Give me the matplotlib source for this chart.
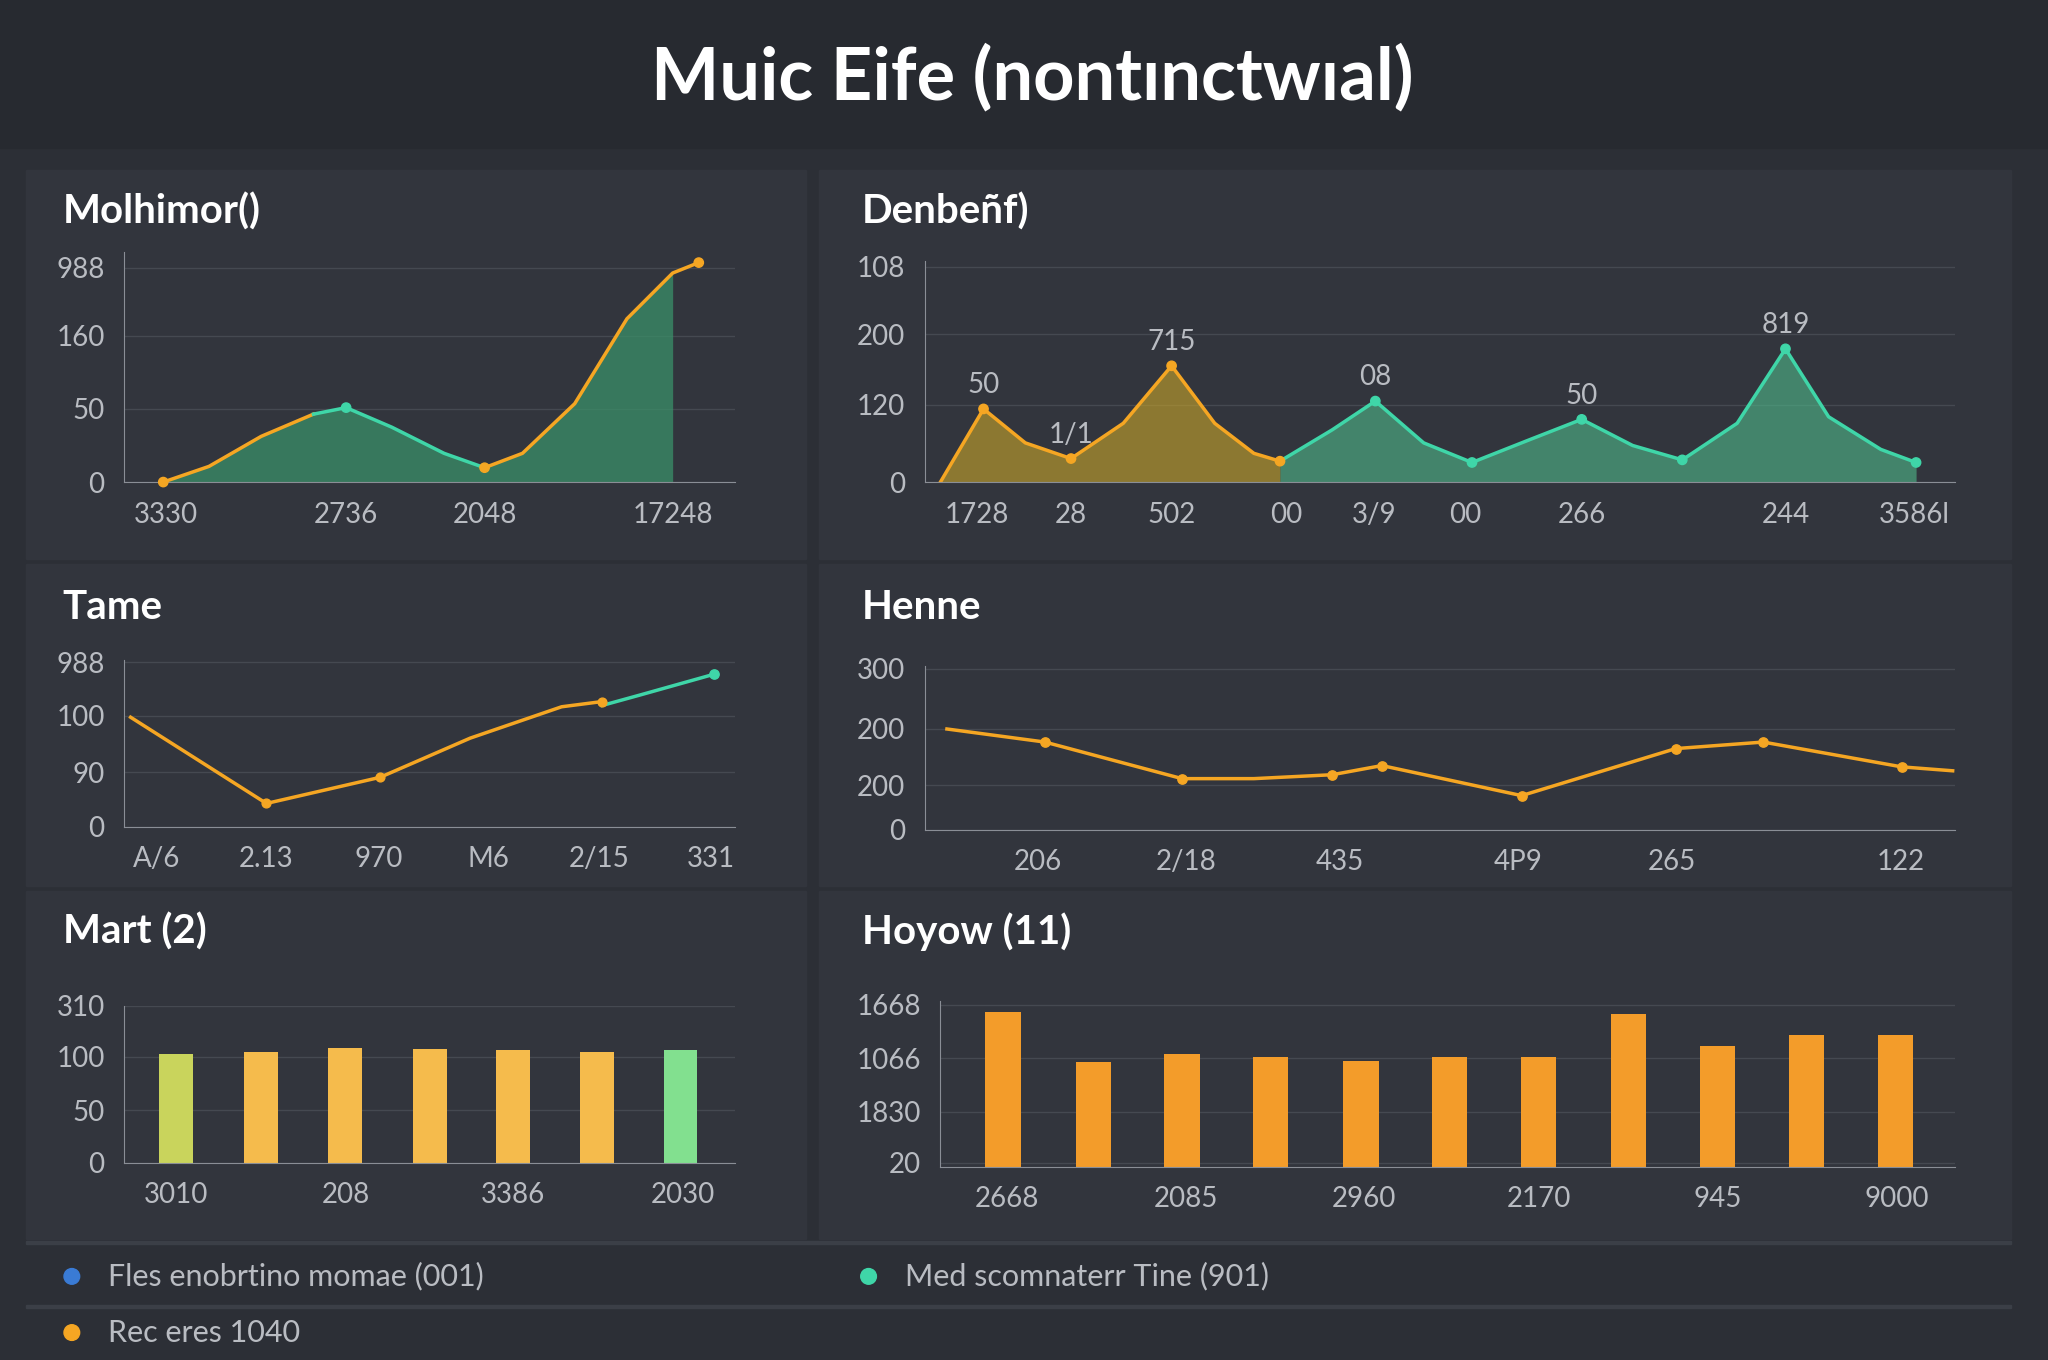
import matplotlib
matplotlib.use('Agg')
import matplotlib.pyplot as plt
import numpy as np

plt.rcParams['font.family'] = ['Lato', 'DejaVu Sans']

W, H = 1568, 1041  # reference layout units
BG = '#2c2f36'
TOP = '#272a30'
PANEL = '#32353d'
GRID = '#454951'
TXT = '#b9bcc2'
ORANGE = '#f5a623'
TEAL = '#3fd6a8'

# ---- data (x in layout units, y as height above the axis floor) ----
p1_x = [125, 160, 200, 240, 265, 300, 340, 371, 400, 440, 480, 515, 535]
p1_y = [0, 12, 35, 52, 57, 42, 22, 11, 22, 60, 125, 160, 168]
p1_marks = [0, 4, 7, 12]
p1_yt, p1_yl = [0, 56, 112, 164], ['0', '50', '160', '988']
p1_xt, p1_xl = [127, 265, 371, 515], ['3330', '2736', '2048', '17248']

p2_x = [720, 753, 785, 820, 860, 897, 930, 960, 980, 1020, 1053, 1090, 1127,
        1170, 1211, 1250, 1288, 1330, 1367, 1400, 1440, 1467]
p2_y = [0, 56, 30, 18, 45, 89, 45, 22, 16, 40, 62, 30, 15, 32, 48, 28, 17,
        45, 102, 50, 25, 15]
p2_marks = [1, 3, 5, 8, 10, 12, 14, 16, 18, 21]
p2_lab = {1: '50', 3: '1/1', 5: '715', 10: '08', 14: '50', 18: '819'}
p2_yt, p2_yl = [0, 59, 113, 165], ['0', '120', '200', '108']
p2_xt = [748, 820, 897, 985, 1052, 1122, 1211, 1367, 1466]
p2_xl = ['1728', '28', '502', '00', '3/9', '00', '266', '244', '3586l']

p3_x = [100, 204, 291, 360, 430, 461]
p3_y = [84, 18, 38, 68, 92, 96]
p3_tx = [461, 490, 547]
p3_ty = [93, 101, 117]
p3_yt, p3_yl = [0, 42, 85, 126], ['0', '90', '100', '988']
p3_xt = [120, 204, 290, 374, 459, 544]
p3_xl = ['A/6', '2.13', '970', 'M6', '2/15', '331']

p4_x = [725, 800, 905, 960, 1020, 1058, 1165, 1283, 1350, 1456, 1495]
p4_y = [77, 67, 39, 39, 42, 49, 26, 62, 67, 48, 45]
p4_marks = [1, 2, 4, 5, 6, 7, 8, 9]
p4_yt, p4_yl = [0, 34, 77, 123], ['0', '200', '200', '300']
p4_xt = [795, 908, 1026, 1162, 1280, 1455]
p4_xl = ['206', '2/18', '435', '4P9', '265', '122']

p5_x = [135, 200, 264, 329, 393, 457, 521]
p5_h = [83, 85, 88, 87, 86, 85, 86]
p5_c = ['#c9d45c', '#f5bb4c', '#f5bb4c', '#f5bb4c', '#f5bb4c', '#f5bb4c', '#82e08f']
p5_yt, p5_yl = [0, 40, 81, 120], ['0', '50', '100', '310']
p5_xt, p5_xl = [135, 265, 393, 523], ['3010', '208', '3386', '2030']

p6_x = [768, 837, 905, 973, 1042, 1110, 1178, 1247, 1315, 1383, 1451]
p6_h = [118, 80, 86, 84, 81, 84, 84, 117, 92, 101, 101]
p6_yt, p6_yl = [3, 42, 83, 124], ['20', '1830', '1066', '1668']
p6_xt = [771, 908, 1044, 1178, 1315, 1452]
p6_xl = ['2668', '2085', '2960', '2170', '945', '9000']

fig = plt.figure(figsize=(20.48, 13.6), dpi=100, facecolor=BG)


def rect(x0, y0, x1, y1, color, z=-10):
    fig.patches.append(plt.Rectangle((x0 / W, 1 - y1 / H), (x1 - x0) / W, (y1 - y0) / H,
                                     transform=fig.transFigure, color=color, zorder=z))


def ax_at(x0, y0, x1, y1, xlim, ylim):
    ax = fig.add_axes([x0 / W, 1 - y1 / H, (x1 - x0) / W, (y1 - y0) / H], zorder=5)
    ax.set_facecolor('none')
    ax.set_xlim(*xlim)
    ax.set_ylim(*ylim)
    for s in ['top', 'right']:
        ax.spines[s].set_visible(False)
    for s in ['left', 'bottom']:
        ax.spines[s].set_color('#8a8e96')
    ax.tick_params(colors=TXT, labelsize=20, length=0, pad=14)
    ax.grid(axis='y', color=GRID, lw=1)
    ax.set_axisbelow(True)
    return ax


def ftext(x, y, s, **kw):
    fig.text(x / W, 1 - y / H, s, **kw)


rect(0, 0, W, 113, TOP)
ftext(790, 60, 'Muic Eife (nontınctwıal)', color='white', fontsize=52,
      fontweight='bold', ha='center', va='center')
for r in [(20, 130, 617, 428), (627, 130, 1540, 428), (20, 432, 617, 678),
          (627, 432, 1540, 678), (20, 682, 617, 948), (627, 682, 1540, 948)]:
    rect(*r, PANEL)
for x, y, t in [(48, 162, 'Molhimor()'), (660, 162, 'Denbeñf)'), (48, 465, 'Tame'),
                (660, 465, 'Henne'), (48, 713, 'Mart (2)'), (660, 713, 'Hoyow (11)')]:
    ftext(x, y, t, color='white', fontsize=29, fontweight='bold', va='center')

# panel 1
ax = ax_at(95, 193, 563, 369, (95, 563), (0, 176))
ax.fill_between(p1_x[:-1], p1_y[:-1], color='#3a8f68', alpha=0.75, lw=0)
ax.plot(p1_x[:4], p1_y[:4], color=ORANGE, lw=2.5)
ax.plot(p1_x[3:8], p1_y[3:8], color=TEAL, lw=2.5)
ax.plot(p1_x[7:], p1_y[7:], color=ORANGE, lw=2.5)
ax.scatter([p1_x[i] for i in p1_marks], [p1_y[i] for i in p1_marks],
           c=[ORANGE, TEAL, ORANGE, ORANGE], s=45, zorder=5, clip_on=False)
ax.set_yticks(p1_yt, p1_yl)
ax.set_xticks(p1_xt, p1_xl)

# panel 2
ax = ax_at(708, 200, 1497, 369, (708, 1497), (0, 169))
k = 8
ax.fill_between(p2_x[:k + 1], p2_y[:k + 1], color='#c9a52a', alpha=0.6, lw=0)
ax.fill_between(p2_x[k:], p2_y[k:], color='#4fb98a', alpha=0.6, lw=0)
ax.plot(p2_x[:k + 1], p2_y[:k + 1], color=ORANGE, lw=2.5)
ax.plot(p2_x[k:], p2_y[k:], color=TEAL, lw=2.5)
ax.scatter([p2_x[i] for i in p2_marks], [p2_y[i] for i in p2_marks],
           c=[ORANGE if i <= k else TEAL for i in p2_marks], s=45, zorder=5)
for i, t in p2_lab.items():
    ax.text(p2_x[i], p2_y[i] + 12, t, color=TXT, fontsize=20, ha='center')
ax.set_yticks(p2_yt, p2_yl)
ax.set_xticks(p2_xt, p2_xl)

# panel 3
ax = ax_at(95, 505, 563, 633, (95, 563), (0, 128))
ax.plot(p3_x, p3_y, color=ORANGE, lw=2.5)
ax.plot(p3_tx, p3_ty, color=TEAL, lw=2.5)
ax.scatter(p3_x[1:3] + [p3_x[-1]], p3_y[1:3] + [p3_y[-1]], c=ORANGE, s=40, zorder=5)
ax.scatter([p3_tx[-1]], [p3_ty[-1]], c=TEAL, s=45, zorder=5)
ax.set_yticks(p3_yt, p3_yl)
ax.set_xticks(p3_xt, p3_xl)

# panel 4
ax = ax_at(708, 510, 1497, 635, (708, 1497), (0, 125))
ax.plot(p4_x, p4_y, color=ORANGE, lw=2.5)
ax.scatter([p4_x[i] for i in p4_marks], [p4_y[i] for i in p4_marks], c=ORANGE, s=45, zorder=5)
ax.set_yticks(p4_yt, p4_yl)
ax.set_xticks(p4_xt, p4_xl)

# panel 5
ax = ax_at(95, 770, 563, 890, (95, 563), (0, 120))
ax.bar(p5_x, p5_h, width=26, color=p5_c)
ax.set_yticks(p5_yt, p5_yl)
ax.set_xticks(p5_xt, p5_xl)

# panel 6
ax = ax_at(720, 766, 1497, 893, (720, 1497), (0, 127))
ax.bar(p6_x, p6_h, width=27, color='#f39c2a')
ax.set_yticks(p6_yt, p6_yl)
ax.set_xticks(p6_xt, p6_xl)

# legend
rect(20, 950, 1540, 952, '#3b3f47', -5)
rect(20, 999, 1540, 1001, '#3b3f47', -5)
for x, y, c, t in [(55, 977, '#3a7bd5', 'Fles enobrtino momae (001)'),
                   (665, 977, TEAL, 'Med scomnaterr Tine (901)'),
                   (55, 1020, ORANGE, 'Rec eres 1040')]:
    fig.patches.append(matplotlib.patches.Ellipse((x / W, 1 - y / H), 12 / W, 12 / H,
                                                  transform=fig.transFigure, color=c))
    ftext(x + 28, y, t, color=TXT, fontsize=22, va='center')

fig.savefig('out.png', facecolor=BG)
